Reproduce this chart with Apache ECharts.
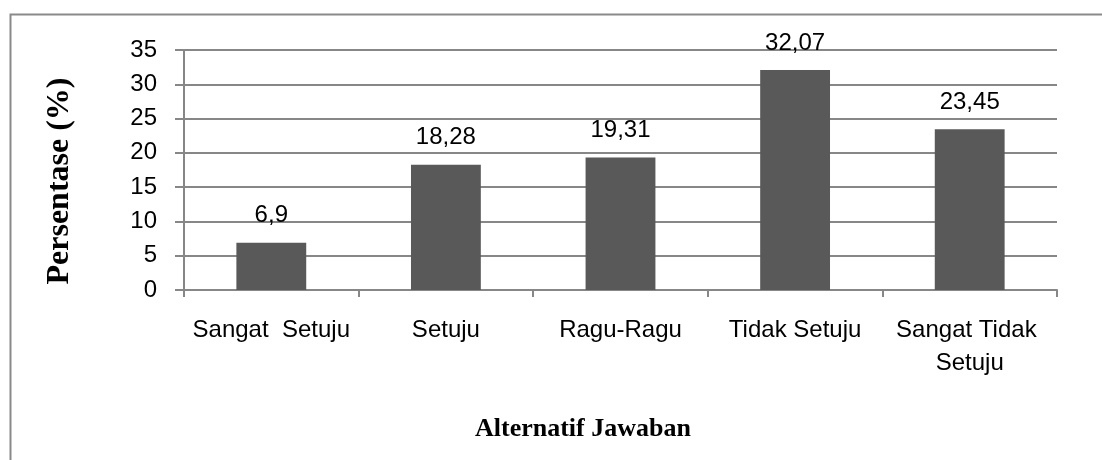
<!DOCTYPE html>
<html>
<head>
<meta charset="utf-8">
<script src="https://cdn.jsdelivr.net/npm/echarts@6/dist/echarts.min.js"></script>
<style>
html,body{margin:0;padding:0;background:#fff;}
#c{width:1102px;height:460px;}
</style>
</head>
<body>
<div id="c"></div>
<script>
const categories = ["Sangat  Setuju", "Setuju", "Ragu-Ragu", "Tidak Setuju", "Sangat Tidak Setuju"];
const values = [6.9, 18.28, 19.31, 32.07, 23.45];
const valueLabels = ["6,9", "18,28", "19,31", "32,07", "23,45"];
const yTitle = "Persentase (%)";
const xTitle = "Alternatif Jawaban";

const chart = echarts.init(document.getElementById('c'), null, {renderer: 'canvas'});
const lineColor = '#878787';
const labelFont = '"Liberation Sans", Arial, sans-serif';
chart.setOption({
  animation: false,
  backgroundColor: '#fff',
  graphic: [
    {type: 'rect', left: 8, top: 12, shape: {x: 0, y: 0, width: 1200, height: 600},
     style: {fill: 'none', stroke: '#8a8a8a', lineWidth: 2}, silent: true, z: -1},
    {type: 'text', left: 475, top: 416,
     style: {text: xTitle, font: 'bold 26px "Liberation Serif", serif', fill: '#000'}},
    {type: 'text', x: 60, y: 181, rotation: Math.PI / 2,
     style: {text: yTitle, font: 'bold 32px "Liberation Serif", serif', fill: '#000',
             textAlign: 'center', textVerticalAlign: 'middle'}}
  ],
  grid: {left: 184, right: 45, top: 50, bottom: 170, containLabel: false},
  xAxis: {
    type: 'category',
    data: categories,
    axisLine: {show: true, lineStyle: {color: lineColor, width: 2}},
    axisTick: {show: true, length: 7, alignWithLabel: false, lineStyle: {color: lineColor, width: 2}},
    axisLabel: {
      interval: 0, margin: 24, color: '#000', fontSize: 24, fontFamily: labelFont,
      lineHeight: 33, width: 172, overflow: 'break'
    },
    splitLine: {show: false}
  },
  yAxis: {
    type: 'value',
    min: 0, max: 35, interval: 5,
    axisLine: {show: true, lineStyle: {color: lineColor, width: 2}},
    axisTick: {show: true, length: 9, lineStyle: {color: lineColor, width: 2}},
    axisLabel: {margin: 27, color: '#000', fontSize: 24, fontFamily: labelFont},
    splitLine: {show: true, lineStyle: {color: lineColor, width: 2}}
  },
  series: [{
    type: 'bar',
    data: values,
    barWidth: '40%',
    itemStyle: {color: '#595959'},
    label: {
      show: true, position: 'top', distance: 15,
      color: '#000', fontSize: 24, fontFamily: labelFont,
      formatter: p => valueLabels[p.dataIndex]
    }
  }]
});
</script>
</body>
</html>
